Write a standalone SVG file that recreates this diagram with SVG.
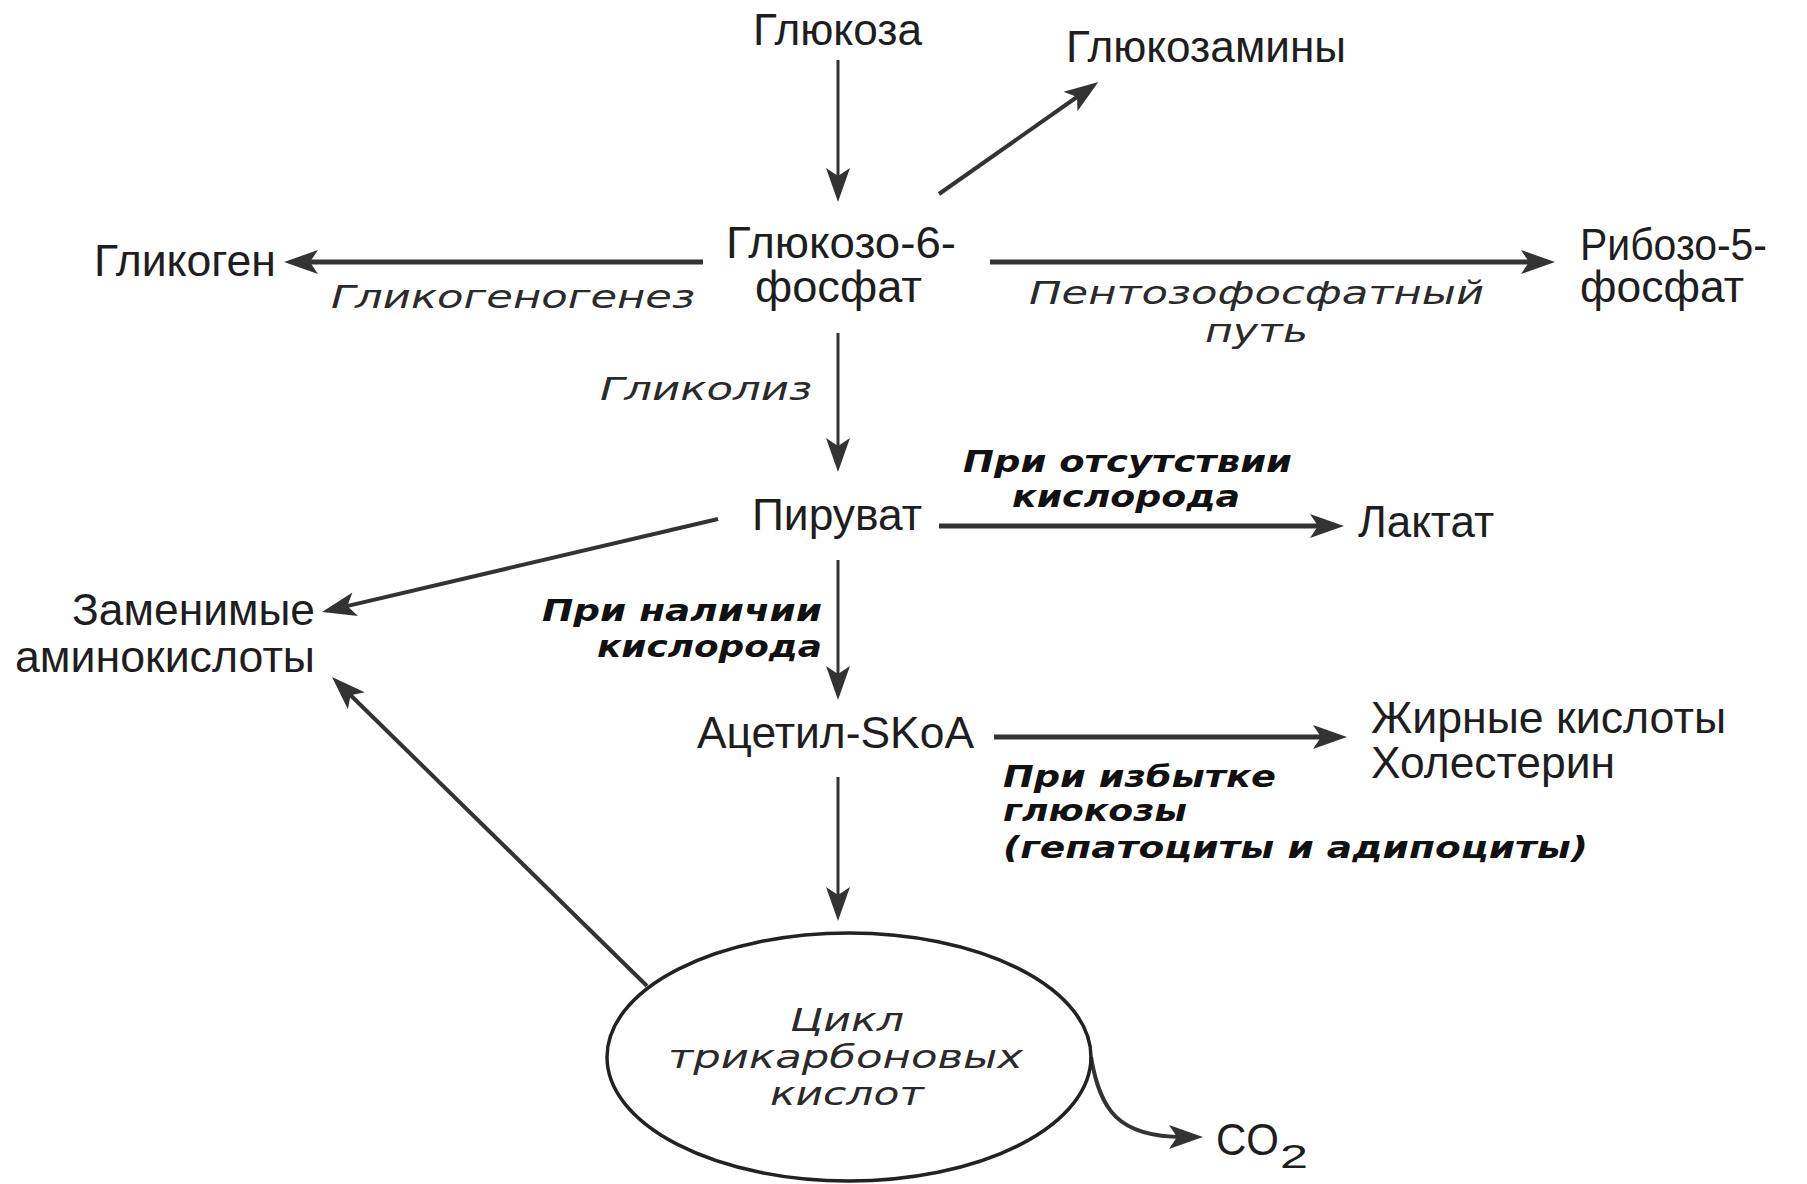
<svg xmlns="http://www.w3.org/2000/svg" width="1807" height="1184" viewBox="0 0 1807 1184">
<style>
.n{font-family:"Liberation Sans",Arial,sans-serif;font-size:44px;fill:#1e1e1e}
.i{font-family:"DejaVu Sans",Verdana,sans-serif;font-style:italic;font-size:32px;fill:#2a2a2a}
.b{font-family:"DejaVu Sans",Verdana,sans-serif;font-style:italic;font-weight:bold;font-size:31px;fill:#111}
.thin{stroke:#333;stroke-width:3;fill:none}
.thick{stroke:#333;stroke-width:5;fill:none}
.mid{stroke:#333;stroke-width:4;fill:none}
</style>
<defs>
<marker id="ah" viewBox="-16 -14 38 28" refX="0" refY="0" markerWidth="38" markerHeight="28" markerUnits="userSpaceOnUse" orient="auto">
<path d="M20,0 L-14,-12 L-6,0 L-14,12 Z" fill="#333"/>
</marker>
</defs>
<rect width="1807" height="1184" fill="#fff"/>
<g id="connectors">
<line class="thin" x1="838" y1="60" x2="838" y2="182" marker-end="url(#ah)"/>
<line class="thick" x1="703" y1="262" x2="304" y2="262" marker-end="url(#ah)"/>
<line class="thick" x1="990" y1="262" x2="1535" y2="262" marker-end="url(#ah)"/>
<line class="mid" x1="939" y1="194" x2="1082" y2="93.5" marker-end="url(#ah)"/>
<line class="thin" x1="838" y1="333" x2="838" y2="452" marker-end="url(#ah)"/>
<line class="thick" x1="939" y1="526" x2="1324" y2="526" marker-end="url(#ah)"/>
<line class="mid" x1="718" y1="519" x2="341.5" y2="607.4" marker-end="url(#ah)"/>
<line class="thin" x1="838" y1="560" x2="838" y2="680" marker-end="url(#ah)"/>
<line class="thick" x1="994" y1="737" x2="1327" y2="737" marker-end="url(#ah)"/>
<line class="thin" x1="838" y1="777" x2="838" y2="901" marker-end="url(#ah)"/>
<line class="mid" x1="647" y1="986" x2="346.3" y2="691" marker-end="url(#ah)"/>
<path class="mid" d="M1091,1057 C1100,1110 1118,1137 1183,1137" marker-end="url(#ah)"/>
</g>
<g id="edge-labels">
<text class="i" x="331" y="308" textLength="364" lengthAdjust="spacingAndGlyphs">Гликогеногенез</text>
<text class="i" x="1029" y="304" textLength="455" lengthAdjust="spacingAndGlyphs">Пентозофосфатный</text>
<text class="i" x="1205" y="342" textLength="103" lengthAdjust="spacingAndGlyphs">путь</text>
<text class="i" x="600" y="400" textLength="212" lengthAdjust="spacingAndGlyphs">Гликолиз</text>
<text class="b" x="963" y="472" textLength="329" lengthAdjust="spacingAndGlyphs">При отсутствии</text>
<text class="b" x="1012" y="507" textLength="228" lengthAdjust="spacingAndGlyphs">кислорода</text>
<text class="b" x="542" y="621" textLength="280" lengthAdjust="spacingAndGlyphs">При наличии</text>
<text class="b" x="597" y="657" textLength="225" lengthAdjust="spacingAndGlyphs">кислорода</text>
<text class="b" x="1003" y="787" textLength="273" lengthAdjust="spacingAndGlyphs">При избытке</text>
<text class="b" x="1003" y="821" textLength="184" lengthAdjust="spacingAndGlyphs">глюкозы</text>
<text class="b" x="1003" y="858" textLength="585" lengthAdjust="spacingAndGlyphs">(гепатоциты и адипоциты)</text>
</g>
<g id="glucose"><text class="n" x="753" y="45" textLength="169" lengthAdjust="spacingAndGlyphs">Глюкоза</text></g>
<g id="glucosamines"><text class="n" x="1066" y="62" textLength="280" lengthAdjust="spacingAndGlyphs">Глюкозамины</text></g>
<g id="g6p"><text class="n" x="726" y="258" textLength="230" lengthAdjust="spacingAndGlyphs">Глюкозо-6-</text><text class="n" x="755" y="302" textLength="167" lengthAdjust="spacingAndGlyphs">фосфат</text></g>
<g id="glycogen"><text class="n" x="94" y="276" textLength="182" lengthAdjust="spacingAndGlyphs">Гликоген</text></g>
<g id="r5p"><text class="n" x="1580" y="260" textLength="187" lengthAdjust="spacingAndGlyphs">Рибозо-5-</text><text class="n" x="1580" y="302" textLength="164" lengthAdjust="spacingAndGlyphs">фосфат</text></g>
<g id="pyruvate"><text class="n" x="752" y="530" textLength="170" lengthAdjust="spacingAndGlyphs">Пируват</text></g>
<g id="lactate"><text class="n" x="1358" y="537" textLength="136" lengthAdjust="spacingAndGlyphs">Лактат</text></g>
<g id="aminoacids"><text class="n" x="72" y="625" textLength="243" lengthAdjust="spacingAndGlyphs">Заменимые</text><text class="n" x="15" y="672" textLength="300" lengthAdjust="spacingAndGlyphs">аминокислоты</text></g>
<g id="acetylcoa"><text class="n" x="697" y="748" textLength="277" lengthAdjust="spacingAndGlyphs">Ацетил-SKoA</text></g>
<g id="fattyacids"><text class="n" x="1371" y="733" textLength="355" lengthAdjust="spacingAndGlyphs">Жирные кислоты</text><text class="n" x="1371" y="778" textLength="244" lengthAdjust="spacingAndGlyphs">Холестерин</text></g>
<g id="tca"><ellipse cx="849" cy="1057" rx="242" ry="124" fill="none" stroke="#222" stroke-width="3.5"/>
<text class="i" x="790" y="1031" textLength="114" lengthAdjust="spacingAndGlyphs">Цикл</text>
<text class="i" x="668" y="1068" textLength="355" lengthAdjust="spacingAndGlyphs">трикарбоновых</text>
<text class="i" x="770" y="1105" textLength="154" lengthAdjust="spacingAndGlyphs">кислот</text></g>
<g id="co2"><text class="n" x="1216" y="1155" textLength="63" lengthAdjust="spacingAndGlyphs">CO</text><text class="n" x="1280" y="1168" style="font-size:34px" textLength="28" lengthAdjust="spacingAndGlyphs">2</text></g>
</svg>
